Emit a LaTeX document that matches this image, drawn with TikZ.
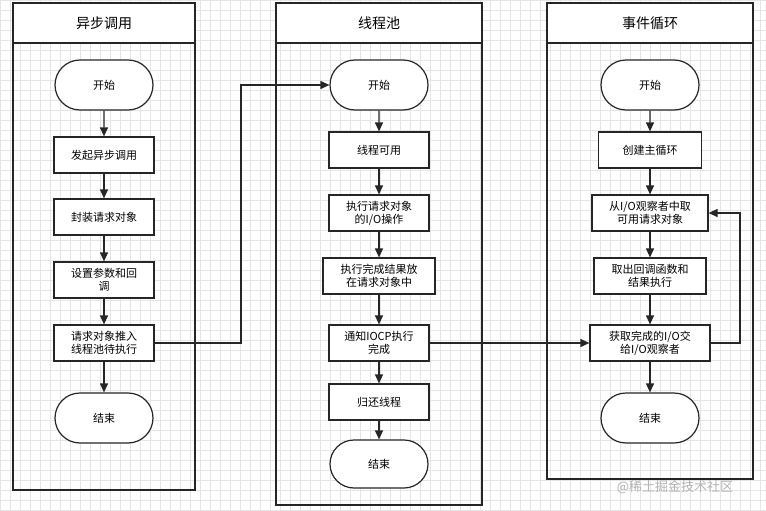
\documentclass[tikz,border=0pt]{standalone}
\usepackage{fontspec}
\setmainfont{Noto Sans CJK SC}
\usetikzlibrary{arrows.meta,shapes.misc}
\begin{document}
\begin{tikzpicture}[x=1pt,y=-1pt,
  lane/.style={draw=black!85,line width=1.3pt},
  box/.style={draw=black!85,line width=1.2pt,fill=white,minimum height=36pt,align=center,font=\fontsize{11}{13}\selectfont,inner sep=1pt},
  term/.style={box,rounded rectangle,minimum width=100pt,minimum height=50pt},
  arr/.style={draw=black!85,line width=1.2pt,-{Triangle[length=9pt,width=8pt]}},
  hd/.style={font=\fontsize{14}{16}\selectfont}]
\useasboundingbox (0,0) rectangle (766,511);
\fill[white] (0,0) rectangle (766,511);
\foreach \i in {0,10,...,760} {\draw[black!10,line width=0.5pt] (\i,0) -- (\i,511);}
\foreach \j in {0,10,...,510} {\draw[black!10,line width=0.5pt] (0,\j) -- (766,\j);}
% lanes
\draw[lane,fill=white] (13,3) rectangle (195,43);
\draw[lane] (13,43) rectangle (195,490);
\draw[lane,fill=white] (276,3) rectangle (482,43);
\draw[lane] (276,43) rectangle (482,505);
\draw[lane,fill=white] (547,3) rectangle (753,43);
\draw[lane] (547,43) rectangle (753,479);
\node[hd] (h1) at (104,23) {异步调用};
\node[hd] (h2) at (379,23) {线程池};
\node[hd] (h3) at (650,23) {事件循环};
% lane 1
\node[term] (a1) at (104,85) {开始};
\node[box,minimum width=100pt] (a2) at (104,155) {发起异步调用};
\node[box,minimum width=100pt] (a3) at (104,217) {封装请求对象};
\node[box,minimum width=100pt] (a4) at (104,280) {设置参数和回\\调};
\node[box,minimum width=100pt] (a5) at (104,343) {请求对象推入\\线程池待执行};
\node[term] (a6) at (104,418) {结束};
% lane 2
\node[term] (b1) at (379,85) {开始};
\node[box,minimum width=100pt] (b2) at (379,150) {线程可用};
\node[box,minimum width=100pt] (b3) at (379,213) {执行请求对象\\的I/O操作};
\node[box,minimum width=112pt] (b4) at (379,276) {执行完成结果放\\在请求对象中};
\node[box,minimum width=100pt] (b5) at (379,343) {通知IOCP执行\\完成};
\node[box,minimum width=100pt] (b6) at (379,402) {归还线程};
\node[term,minimum height=48pt] (b7) at (379,464) {结束};
% lane 3
\node[term] (c1) at (650,85) {开始};
\node[box,minimum width=103pt] (c2) at (650,150) {创建主循环};
\node[box,minimum width=116pt] (c3) at (650,213) {从I/O观察者中取\\可用请求对象};
\node[box,minimum width=112pt] (c4) at (650,276) {取出回调函数和\\结果执行};
\node[box,minimum width=120pt] (c5) at (650,343) {获取完成的I/O交\\给I/O观察者};
\node[term] (c6) at (650,418) {结束};
% arrows
\draw[arr] (a1) -- (a2); \draw[arr] (a2) -- (a3); \draw[arr] (a3) -- (a4);
\draw[arr] (a4) -- (a5); \draw[arr] (a5) -- (a6);
\draw[arr] (b1) -- (b2); \draw[arr] (b2) -- (b3); \draw[arr] (b3) -- (b4);
\draw[arr] (b4) -- (b5); \draw[arr] (b5) -- (b6); \draw[arr] (b6) -- (b7);
\draw[arr] (c1) -- (c2); \draw[arr] (c2) -- (c3); \draw[arr] (c3) -- (c4);
\draw[arr] (c4) -- (c5); \draw[arr] (c5) -- (c6);
\draw[arr] (a5.east) -- (241,343) |- (b1.west);
\draw[arr] (b5.east) -- (c5.west);
\draw[arr] (c5.east) -- (740,343) |- (c3.east);
\node[text=black!30,font=\fontsize{13}{15}\selectfont] (wm) at (675,487) {@稀土掘金技术社区};
\end{tikzpicture}
\end{document}
